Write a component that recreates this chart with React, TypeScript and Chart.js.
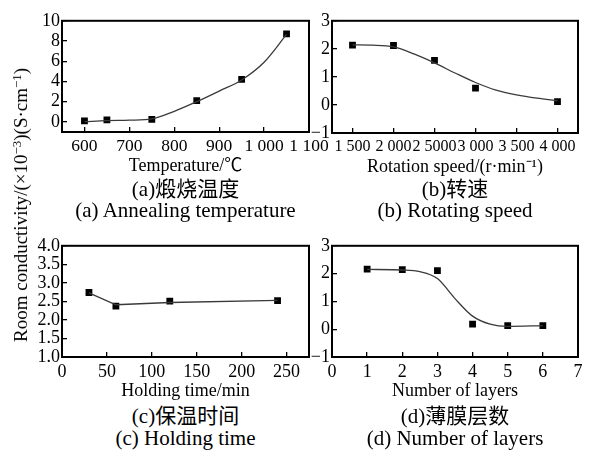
import React, { useEffect, useRef } from 'react';
import { Chart, registerables } from 'chart.js';
Chart.register(...registerables);

// ---------- Panel (a) Annealing temperature ----------
const A_X = [600, 650, 750, 850, 950, 1050];
const A_Y = [0.1, 0.2, 0.25, 2.1, 4.2, 8.7];
const A_FIT_X = [600, 650, 700, 750, 800, 850, 900, 950, 1000, 1050];
const A_FIT_Y = [0.02, 0.12, 0.17, 0.3, 1.05, 2.0, 3.05, 4.15, 5.9, 8.65];
const A_XTICKS = [600, 700, 800, 900, 1000, 1100];
const A_XLABELS = ['600', '700', '800', '900', '1 000', '1 100'];
const A_YTICKS = [-1, 0, 2, 4, 6, 8, 10];
const A_YLABELS = ['', '0', '2', '4', '6', '8', '10'];

// ---------- Panel (b) Rotating speed ----------
const B_X = [1500, 2000, 2500, 3000, 4000];
const B_Y = [2.13, 2.12, 1.59, 0.6, 0.12];
const B_FIT_X = [1500, 1750, 2000, 2250, 2500, 2750, 3000, 3250, 3500, 3750, 4000];
const B_FIT_Y = [2.14, 2.13, 2.07, 1.82, 1.5, 1.14, 0.8, 0.53, 0.36, 0.24, 0.15];
const B_XTICKS = [1500, 2000, 2500, 3000, 3500, 4000];
const B_XLABELS = ['1 500', '2 000', '2 5000', '3 000', '3 500', '4 000'];
const B_YTICKS = [-1, 0, 1, 2, 3];
const B_YLABELS = ['\u22121', '0', '1', '2', '3'];

// ---------- Panel (c) Holding time ----------
const C_X = [30, 60, 120, 240];
const C_Y = [2.74, 2.37, 2.51, 2.52];
const C_FIT_X = [30, 60, 120, 240];
const C_FIT_Y = [2.73, 2.41, 2.47, 2.53];
const C_XTICKS = [0, 50, 100, 150, 200, 250];
const C_XLABELS = ['0', '50', '100', '150', '200', '250'];
const C_YTICKS = [1.0, 1.5, 2.0, 2.5, 3.0, 3.5, 4.0];
const C_YLABELS = ['1.0', '1.5', '2.0', '2.5', '3.0', '3.5', '4.0'];

// ---------- Panel (d) Number of layers ----------
const D_X = [1, 2, 3, 4, 5, 6];
const D_Y = [2.16, 2.14, 2.11, 0.18, 0.13, 0.13];
const D_FIT_X = [1, 2, 2.5, 3, 3.5, 4, 4.5, 5, 6];
const D_FIT_Y = [2.15, 2.13, 2.07, 1.82, 1.1, 0.47, 0.18, 0.1, 0.13];
const D_XTICKS = [0, 1, 2, 3, 4, 5, 6, 7];
const D_XLABELS = ['0', '1', '2', '3', '4', '5', '6', '7'];
const D_YTICKS = [-1, 0, 1, 2, 3];
const D_YLABELS = ['\u22121', '0', '1', '2', '3'];

const SERIF = "'Liberation Serif', 'Times New Roman', 'Noto Sans CJK SC', serif";

const PAD_TOP = 12;
const PAD_RIGHT = 30;
const YW = 50;
const XH = 46;

type PanelDef = {
  area: [number, number, number, number];
  xMin: number; xMax: number; xTicks: number[]; xLabels: string[]; xFont: number;
  yMin: number; yMax: number; yTicks: number[]; yLabels: string[];
  xTitle: string;
  px: number[]; py: number[]; fx: number[]; fy: number[];
  monotone: boolean;
};

const PANELS: PanelDef[] = [
  { area: [62, 15, 309, 132], xMin: 550, xMax: 1100, xTicks: A_XTICKS, xLabels: A_XLABELS, xFont: 17.5,
    yMin: -1, yMax: 10, yTicks: A_YTICKS, yLabels: A_YLABELS, xTitle: 'Temperature/\u2103',
    px: A_X, py: A_Y, fx: A_FIT_X, fy: A_FIT_Y, monotone: true },
  { area: [332, 15, 578, 133], xMin: 1250, xMax: 4250, xTicks: B_XTICKS, xLabels: B_XLABELS, xFont: 16,
    yMin: -1, yMax: 3, yTicks: B_YTICKS, yLabels: B_YLABELS, xTitle: 'Rotation speed/(r\u00b7min\u207b\u00b9)',
    px: B_X, py: B_Y, fx: B_FIT_X, fy: B_FIT_Y, monotone: true },
  { area: [62, 240, 309, 357], xMin: 0, xMax: 275, xTicks: C_XTICKS, xLabels: C_XLABELS, xFont: 18,
    yMin: 1, yMax: 4, yTicks: C_YTICKS, yLabels: C_YLABELS, xTitle: 'Holding time/min',
    px: C_X, py: C_Y, fx: C_FIT_X, fy: C_FIT_Y, monotone: false },
  { area: [332, 240, 578, 357], xMin: 0, xMax: 7, xTicks: D_XTICKS, xLabels: D_XLABELS, xFont: 18,
    yMin: -1, yMax: 3, yTicks: D_YTICKS, yLabels: D_YLABELS, xTitle: 'Number of layers',
    px: D_X, py: D_Y, fx: D_FIT_X, fy: D_FIT_Y, monotone: true },
];

const CAPTIONS = [
  { cx: 185.5, y1: 189, y2: 210, zh: '(a)\u7145\u70e7\u6e29\u5ea6', en: '(a) Annealing temperature' },
  { cx: 455, y1: 189, y2: 210, zh: '(b)\u8f6c\u901f', en: '(b) Rotating speed' },
  { cx: 185.5, y1: 416, y2: 438, zh: '(c)\u4fdd\u6e29\u65f6\u95f4', en: '(c) Holding time' },
  { cx: 455, y1: 416, y2: 438, zh: '(d)\u8584\u819c\u5c42\u6570', en: '(d) Number of layers' },
];

const boxPlugin = {
  id: 'frameBox',
  afterDatasetsDraw(chart: any) {
    const { ctx, chartArea } = chart;
    const { left, top, right, bottom } = chartArea;
    ctx.save();
    ctx.strokeStyle = '#000';
    ctx.lineWidth = 2;
    ctx.strokeRect(left, top, right - left, bottom - top);
    ctx.restore();
  },
};

function Panel({ def }: { def: PanelDef }) {
  const ref = useRef<HTMLCanvasElement | null>(null);
  const [l, t, r, b] = def.area;
  const w = YW + (r - l) + PAD_RIGHT;
  const h = PAD_TOP + (b - t) + XH;

  useEffect(() => {
    if (!ref.current) return;
    const chart = new Chart(ref.current, {
      type: 'scatter',
      data: {
        datasets: [
          {
            data: def.fx.map((x, i) => ({ x, y: def.fy[i] })),
            showLine: true,
            borderColor: '#3a3a3a',
            borderWidth: 1.3,
            pointRadius: 0,
            cubicInterpolationMode: def.monotone ? 'monotone' : 'default',
            tension: 0,
            fill: false,
          } as any,
          {
            data: def.px.map((x, i) => ({ x, y: def.py[i] })),
            showLine: false,
            pointStyle: 'rect',
            pointRadius: 4.8,
            backgroundColor: '#000',
            borderColor: '#000',
            borderWidth: 0,
          } as any,
        ],
      },
      options: {
        responsive: false,
        animation: false,
        devicePixelRatio: 1,
        layout: { padding: { top: PAD_TOP, right: PAD_RIGHT, left: 0, bottom: 0 } },
        plugins: { legend: { display: false }, tooltip: { enabled: false }, title: { display: false } },
        scales: {
          x: {
            type: 'linear',
            min: def.xMin,
            max: def.xMax,
            afterBuildTicks: (s: any) => { s.ticks = def.xTicks.map((v) => ({ value: v })); },
            afterFit: (s: any) => { s.height = XH; },
            ticks: {
              autoSkip: false,
              maxRotation: 0,
              minRotation: 0,
              padding: 9,
              color: '#000',
              font: { family: SERIF, size: def.xFont },
              callback: (_v: any, i: number) => def.xLabels[i],
            },
            grid: { display: true, drawOnChartArea: false, drawTicks: true, tickLength: -5, color: '#000', lineWidth: 1.3 },
            border: { display: false },
            title: {
              display: true,
              text: def.xTitle,
              color: '#000',
              font: { family: SERIF, size: 18, lineHeight: 1.2 },
              padding: { top: 0, bottom: 1 },
            },
          },
          y: {
            type: 'linear',
            min: def.yMin,
            max: def.yMax,
            afterBuildTicks: (s: any) => { s.ticks = def.yTicks.map((v) => ({ value: v })); },
            afterFit: (s: any) => { s.width = YW; },
            ticks: {
              autoSkip: false,
              padding: 7,
              color: '#000',
              font: { family: SERIF, size: 18 },
              callback: (_v: any, i: number) => def.yLabels[i],
            },
            grid: { display: true, drawOnChartArea: false, drawTicks: true, tickLength: -5, color: '#000', lineWidth: 1.3 },
            border: { display: false },
          },
        },
      } as any,
      plugins: [boxPlugin],
    });
    return () => chart.destroy();
  }, [def]);

  return (
    <canvas
      ref={ref}
      width={w}
      height={h}
      style={{ position: 'absolute', left: l - YW, top: t - PAD_TOP, width: w, height: h }}
    />
  );
}

export default function App() {
  const capStyle = (cx: number, cy: number): React.CSSProperties => ({
    position: 'absolute',
    left: cx,
    top: cy - 12,
    transform: 'translateX(-50%)',
    whiteSpace: 'nowrap',
    fontFamily: SERIF,
    fontSize: 21,
    lineHeight: '24px',
    color: '#000',
  });
  const sup: React.CSSProperties = { fontSize: '0.68em', position: 'relative', top: '-0.45em' };
  return (
    <div style={{ position: 'absolute', left: 0, top: 0, width: 590, height: 450, background: '#fff', overflow: 'hidden' }}>
      {PANELS.map((p, i) => <Panel key={i} def={p} />)}
      {CAPTIONS.map((c, i) => (
        <React.Fragment key={i}>
          <div style={capStyle(c.cx, c.y1)}>{c.zh}</div>
          <div style={capStyle(c.cx, c.y2)}>{c.en}</div>
        </React.Fragment>
      ))}
      <div
        style={{
          position: 'absolute',
          left: 22,
          top: 205,
          transform: 'translate(-50%, -50%) rotate(-90deg)',
          whiteSpace: 'nowrap',
          fontFamily: SERIF,
          fontSize: 19,
          lineHeight: '22px',
          color: '#000',
        }}
      >
        Room conductivity/(×10<span style={sup}>−3</span>)(S·cm<span style={sup}>−1</span>)
      </div>
    </div>
  );
}
